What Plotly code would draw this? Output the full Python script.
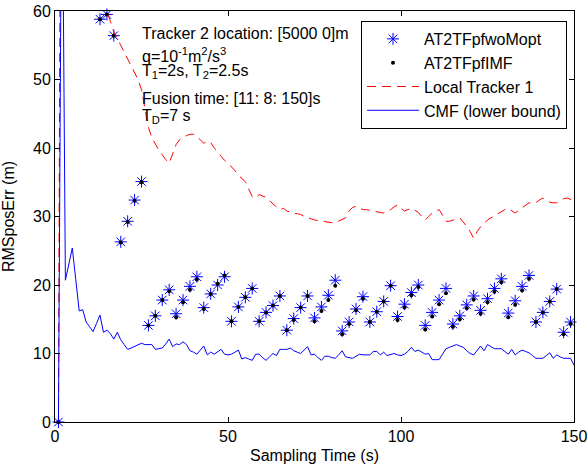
import plotly.graph_objects as go

# ---- data ----
t_line = list(range(1, 151))
cmf_lower = [0, 90, 20.7, 23.0, 25.4, 20.8, 16.2, 16.4, 14.6, 13.9,
             13.2, 14.4, 15.6, 13.1, 13.4, 12.9, 12.1, 13.1, 12.0, 11.3,
             10.6, 10.8, 11.0, 11.3, 11.5, 11.3, 11.3, 11.3, 10.6, 10.7,
             10.8, 11.4, 12.1, 11.0, 11.4, 11.3, 11.7, 11.3, 10.4, 10.2,
             9.9, 10.5, 11.1, 9.8, 10.2, 9.9, 10.2, 10.6, 9.9, 9.8,
             9.9, 10.2, 10.5, 9.2, 9.4, 9.2, 9.0, 9.9, 9.9, 9.4,
             9.0, 9.5, 10.0, 9.7, 10.6, 10.6, 10.6, 10.8, 10.4, 10.2,
             10.0, 10.5, 11.0, 9.8, 9.9, 9.4, 9.0, 9.6, 9.6, 9.4,
             9.3, 9.8, 10.4, 9.5, 9.4, 9.3, 9.6, 9.9, 9.8, 9.8,
             9.8, 10.3, 10.3, 9.8, 10.2, 9.7, 9.8, 10.0, 9.8, 9.7,
             9.9, 10.3, 10.9, 10.3, 10.5, 10.2, 9.9, 10.0, 9.1, 9.1,
             9.1, 9.9, 10.7, 10.9, 11.1, 11.3, 11.1, 10.9, 10.4, 10.0,
             9.8, 10.5, 11.1, 10.4, 11.3, 11.0, 10.7, 10.7, 10.7, 10.3,
             9.9, 10.6, 9.8, 10.2, 10.5, 10.3, 10.1, 9.7, 9.3, 9.3,
             9.3, 9.7, 10.1, 9.3, 9.8, 9.5, 9.3, 9.3, 9.3, 8.3]

local_tracker1 = [0, 150, 140, 130, 120, 110, 100, 90, 85, 80,
                  75, 70, 66, 62, 60.0, 58.5, 57.0, 56.0, 55.0, 54.0,
                  53.0, 52.0, 51.0, 50.0, 48.5, 46.0, 43.0, 41.5, 40.5, 39.7,
                  39.0, 38.3, 37.8, 39.2, 40.5, 41.2, 41.6, 41.8, 42.0, 42.0,
                  41.7, 41.2, 40.7, 41.0, 40.8, 40.0, 39.5, 38.8, 38.2, 37.8,
                  37.3, 36.7, 36.0, 35.5, 35.1, 34.0, 32.9, 32.7, 33.2, 33.0,
                  32.8, 32.3, 31.8, 31.4, 31.0, 31.2, 30.8, 30.6, 30.5, 30.4,
                  30.3, 30.0, 29.8, 29.7, 29.5, 29.4, 29.3, 29.2, 29.1, 29.1,
                  29.1, 29.3, 29.5, 29.8, 30.8, 31.3, 31.5, 31.2, 31.0, 31.0,
                  30.9, 30.8, 30.7, 30.6, 30.5, 30.8, 31.0, 31.4, 31.7, 31.2,
                  30.8, 31.0, 31.2, 30.9, 30.6, 30.0, 29.5, 30.0, 30.5, 30.8,
                  31.0, 30.2, 29.3, 29.3, 29.5, 29.7, 29.8, 29.2, 28.5, 27.8,
                  26.8, 27.8, 28.5, 28.9, 29.5, 29.8, 30.1, 30.5, 30.8, 31.0,
                  31.2, 30.8, 30.5, 30.9, 31.3, 31.7, 32.0, 32.0, 32.0, 32.4,
                  32.7, 32.4, 32.1, 32.0, 32.0, 32.3, 32.6, 32.7, 32.5, 32.3]

t_mark = list(range(1, 151, 2))
at2tf_wo_mopt = [0, None, None, None, None, None, 58.8, 59.5, 56.4,
                 26.3, 29.3, 32.4, 35.1,
                 14.1, 15.5, 17.8, 19.3,
                 15.8, 17.8, 19.8, 21.2,
                 16.7, 18.7, 20.0, 21.2,
                 14.7, 16.8, 18.2, 19.5,
                 14.7, 16.0, 17.0, 18.4,
                 13.4, 15.1, 16.7, 18.4,
                 15.2, 16.8, 18.5, 20.7,
                 13.3, 14.6, 16.5, 18.3,
                 14.6, 16.1, 17.6, 19.9,
                 15.4, 17.2, 18.9, 20.0,
                 14.1, 16.0, 17.8, 19.5,
                 14.3, 15.5, 17.1, 18.4,
                 16.3, 18.0, 19.5, 20.9,
                 15.9, 17.7, 19.8, 21.4,
                 14.6, 16.0, 17.6, 19.4,
                 13.1, 14.6]
at2tf_imf = [0, None, None, None, None, None, 58.8, 59.5, 56.4,
             26.2, 29.2, 32.3, 35.0,
             14.1, 15.5, 17.8, 19.1,
             15.3, 17.5, 19.3, 20.8,
             16.5, 18.7, 20.2, 21.4,
             14.7, 16.8, 18.2, 19.5,
             14.7, 16.0, 17.0, 18.4,
             13.4, 14.9, 16.7, 18.4,
             14.7, 16.2, 17.8, 19.9,
             12.8, 14.3, 16.3, 18.0,
             14.6, 16.1, 17.6, 19.9,
             14.9, 16.7, 18.5, 19.7,
             13.5, 15.4, 17.2, 18.8,
             13.9, 15.0, 16.6, 17.9,
             15.8, 17.5, 19.0, 20.4,
             15.3, 17.1, 19.2, 20.9,
             14.6, 16.0, 17.6, 19.4,
             12.8, 14.3]

x_ticks = [0, 50, 100, 150]
y_ticks = [0, 10, 20, 30, 40, 50, 60]

FONT = "Liberation Sans, Arial, Helvetica, sans-serif"
FS = 16

fig = go.Figure()
fig.add_trace(go.Scatter(x=t_mark, y=at2tf_wo_mopt, mode="markers", name="AT2TFpfwoMopt",
                         marker=dict(symbol="asterisk-open", size=10, color="#0000ff",
                                     line=dict(color="#0000ff", width=1)),
                         cliponaxis=False))
fig.add_trace(go.Scatter(x=t_mark, y=at2tf_imf, mode="markers", name="AT2TFpfIMF",
                         marker=dict(symbol="circle", size=4, color="black"),
                         cliponaxis=False))
fig.add_trace(go.Scatter(x=t_line, y=local_tracker1, mode="lines", name="Local Tracker 1",
                         line=dict(color="#ff0000", width=1, dash="9px,6px")))
fig.add_trace(go.Scatter(x=t_line, y=cmf_lower, mode="lines", name="CMF (lower bound)",
                         line=dict(color="#0000ff", width=1)))

annots = [
    ("Tracker 2 location: [5000 0]m", 0.946),
    ("q=10<sup>-1</sup>m<sup>2</sup>/s<sup>3</sup>", 0.893),
    ("T<sub>1</sub>=2s, T<sub>2</sub>=2.5s", 0.853),
    ("Fusion time: [11: 8: 150]s", 0.788),
    ("T<sub>D</sub>=7 s", 0.743),
]
for txt, yp in annots:
    fig.add_annotation(text=txt, xref="paper", yref="paper", x=0.163, y=yp,
                       xanchor="left", yanchor="middle", showarrow=False,
                       font=dict(family=FONT, size=FS, color="black"))

axis_common = dict(showgrid=False, zeroline=False, showline=True, linecolor="black",
                   linewidth=1, mirror="allticks", ticks="inside", ticklen=5,
                   tickcolor="black", automargin=False,
                   tickfont=dict(family=FONT, size=FS, color="black"))
fig.update_xaxes(range=[0, 150], tickvals=x_ticks,
                 title=dict(text="Sampling Time (s)", font=dict(family=FONT, size=FS, color="black"),
                            standoff=5),
                 **axis_common)
fig.update_yaxes(range=[0, 60], tickvals=y_ticks,
                 title=dict(text="RMSposErr (m)", font=dict(family=FONT, size=FS, color="black"),
                            standoff=14),
                 **axis_common)

fig.update_layout(
    width=588, height=466,
    margin=dict(l=55, r=14, t=11, b=44),
    plot_bgcolor="white", paper_bgcolor="white",
    font=dict(family=FONT, size=FS, color="black"),
    legend=dict(x=0.5896, y=0.9757, xanchor="left", yanchor="top",
                bgcolor="white", bordercolor="black", borderwidth=1,
                font=dict(family=FONT, size=FS, color="black"),
                tracegroupgap=0, itemwidth=52),
    showlegend=True,
)

fig.write_html("out.html", config={"displayModeBar": False},
               post_script="document.body.style.margin='0';document.body.style.overflow='hidden';")
